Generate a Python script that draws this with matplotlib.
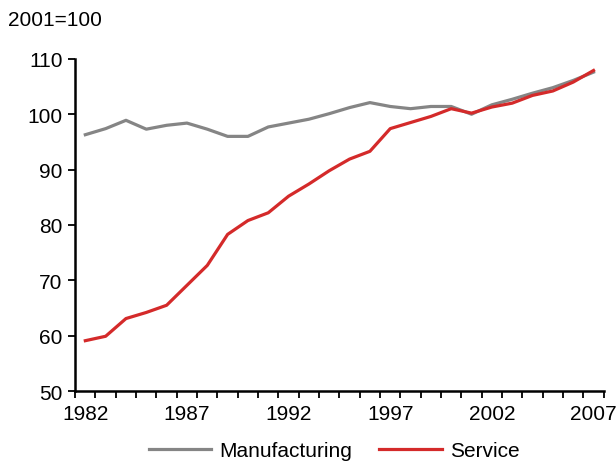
import matplotlib
matplotlib.use("Agg")
import matplotlib.pyplot as plt
import numpy as np

plt.rcParams["font.family"] = ["Liberation Sans", "DejaVu Sans"]

GRAY = "#858585"
RED = "#d42a2a"

years = list(range(1982, 2008))
manufacturing = [96.3, 97.4, 98.9, 97.3, 98.0, 98.4, 97.3, 96.0, 96.0, 97.7,
                 98.4, 99.1, 100.1, 101.2, 102.1, 101.4, 101.0, 101.4, 101.4, 100.0,
                 101.7, 102.7, 103.8, 104.8, 106.1, 107.6]
service = [59.1, 59.9, 63.1, 64.2, 65.5, 69.1, 72.7, 78.3, 80.8, 82.2,
           85.2, 87.4, 89.8, 91.9, 93.3, 97.4, 98.5, 99.6, 101.0, 100.2,
           101.3, 102.0, 103.4, 104.2, 105.8, 107.9]
year_labels = [1982, 1987, 1992, 1997, 2002, 2007]
y_ticks = [50, 60, 70, 80, 90, 100, 110]

fig = plt.figure(figsize=(6.16, 4.64), dpi=100)
ax = fig.add_axes([0.122, 0.155, 0.858, 0.716])

ax.plot(years, manufacturing, color=GRAY, linewidth=2.3, label="Manufacturing")
ax.plot(years, service, color=RED, linewidth=2.3, label="Service")

ax.set_xlim(years[0] - 0.5, years[-1] + 0.5)
ax.set_ylim(50, 110)
ax.set_yticks(y_ticks)
ax.set_xticks(year_labels)
ax.set_xticks(np.arange(years[0] - 0.5, years[-1] + 1, 1), minor=True)
ax.tick_params(axis="x", which="major", length=0, pad=9, labelsize=15)
ax.tick_params(axis="x", which="minor", length=5, width=1.3, direction="out")
ax.tick_params(axis="y", length=5, width=1.3, direction="out", labelsize=15, pad=4)

for side in ("top", "right"):
    ax.spines[side].set_visible(False)
for side in ("left", "bottom"):
    ax.spines[side].set_linewidth(1.8)

fig.text(0.013, 0.955, "2001=100", fontsize=15, ha="left", va="center")

ax.legend(loc="lower center", bbox_to_anchor=(0.49, -0.245), ncol=2, frameon=False,
          fontsize=15, handlelength=3.0, columnspacing=1.3, handletextpad=0.4,
          borderpad=0.1)

fig.savefig("out.png", dpi=100)
